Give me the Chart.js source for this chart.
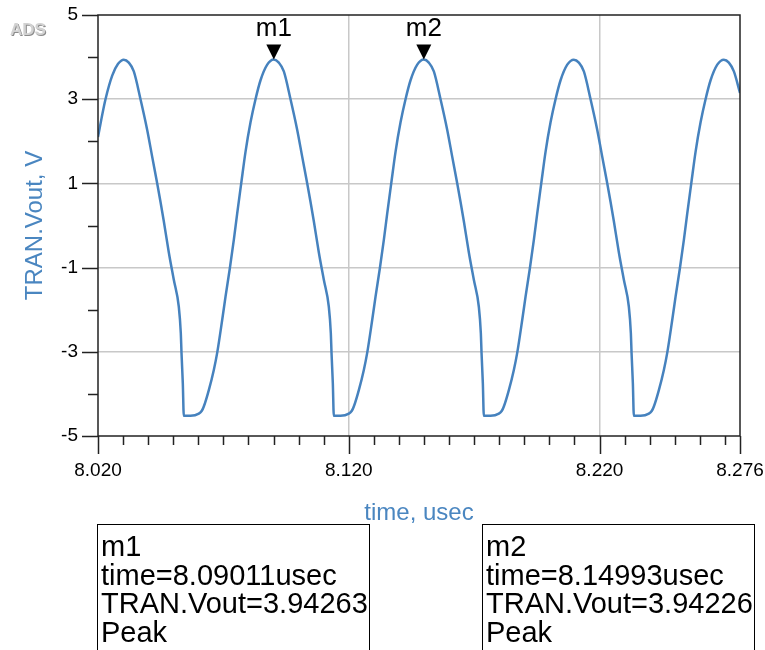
<!DOCTYPE html>
<html>
<head>
<meta charset="utf-8">
<title>TRAN.Vout</title>
<script src="https://cdn.jsdelivr.net/npm/chart.js@4.4.1/dist/chart.umd.min.js"></script>
<style>
  body { margin: 0; background: #fff; }
  canvas { display: block; }
</style>
</head>
<body>
<canvas id="tranChart" width="765" height="650"></canvas>
<script>
// time in usec, one row per period (peak to peak)
const timeUs = [
  8.02000, 8.02152, 8.02299, 8.02566, 8.02800,
  8.03029, 8.03228, 8.03428, 8.03695, 8.03962, 8.04162, 8.04361, 8.04493, 8.04624, 8.04824, 8.05023, 8.05222, 8.05302, 8.05330, 8.05382, 8.05422, 8.05689, 8.06020, 8.06140, 8.06219, 8.06419, 8.06618, 8.06754, 8.06953, 8.07085, 8.07256, 8.07416, 8.07551, 8.07711, 8.07882, 8.08082, 8.08281, 8.08481, 8.08748,
  8.09011, 8.09210, 8.09410, 8.09677, 8.09944, 8.10144, 8.10343, 8.10475, 8.10606, 8.10806, 8.11005, 8.11204, 8.11284, 8.11312, 8.11364, 8.11404, 8.11671, 8.12002, 8.12122, 8.12201, 8.12401, 8.12600, 8.12736, 8.12935, 8.13067, 8.13238, 8.13398, 8.13533, 8.13693, 8.13864, 8.14064, 8.14263, 8.14463, 8.14730,
  8.14993, 8.15192, 8.15392, 8.15659, 8.15926, 8.16126, 8.16325, 8.16457, 8.16588, 8.16788, 8.16987, 8.17186, 8.17266, 8.17294, 8.17346, 8.17386, 8.17653, 8.17984, 8.18104, 8.18183, 8.18383, 8.18582, 8.18718, 8.18917, 8.19049, 8.19220, 8.19380, 8.19515, 8.19675, 8.19846, 8.20046, 8.20245, 8.20445, 8.20712,
  8.20975, 8.21174, 8.21374, 8.21641, 8.21908, 8.22108, 8.22307, 8.22439, 8.22570, 8.22770, 8.22969, 8.23168, 8.23248, 8.23276, 8.23328, 8.23368, 8.23635, 8.23966, 8.24086, 8.24165, 8.24365, 8.24564, 8.24700, 8.24899, 8.25031, 8.25202, 8.25362, 8.25497, 8.25657, 8.25828, 8.26028, 8.26227, 8.26427, 8.26694,
  8.26957, 8.27156, 8.27356, 8.27600
];

// TRAN.Vout in V
const voutV = [
  2.10, 2.58, 3.00, 3.56, 3.84,
  3.94, 3.87, 3.66, 3.00, 2.27, 1.63, 1.00, 0.56, 0.10, -0.64, -1.29, -1.93, -2.56, -3.03, -3.75, -4.52, -4.52, -4.47, -4.40, -4.30, -3.91, -3.43, -3.02, -2.24, -1.69, -1.02, -0.34, 0.29, 1.00, 1.75, 2.45, 3.00, 3.45, 3.82,
  3.94263, 3.87, 3.66, 3.00, 2.27, 1.63, 1.00, 0.56, 0.10, -0.64, -1.29, -1.93, -2.56, -3.03, -3.75, -4.52, -4.52, -4.47, -4.40, -4.30, -3.91, -3.43, -3.02, -2.24, -1.69, -1.02, -0.34, 0.29, 1.00, 1.75, 2.45, 3.00, 3.45, 3.82,
  3.94226, 3.87, 3.66, 3.00, 2.27, 1.63, 1.00, 0.56, 0.10, -0.64, -1.29, -1.93, -2.56, -3.03, -3.75, -4.52, -4.52, -4.47, -4.40, -4.30, -3.91, -3.43, -3.02, -2.24, -1.69, -1.02, -0.34, 0.29, 1.00, 1.75, 2.45, 3.00, 3.45, 3.82,
  3.94, 3.87, 3.66, 3.00, 2.27, 1.63, 1.00, 0.56, 0.10, -0.64, -1.29, -1.93, -2.56, -3.03, -3.75, -4.52, -4.52, -4.47, -4.40, -4.30, -3.91, -3.43, -3.02, -2.24, -1.69, -1.02, -0.34, 0.29, 1.00, 1.75, 2.45, 3.00, 3.45, 3.82,
  3.94, 3.87, 3.66, 3.15
];

const xTickValues = [8.020, 8.120, 8.220, 8.276];
const xGridValues = [8.120, 8.220];
const xMinorStep = 0.01;
const yTickValues = [-5, -3, -1, 1, 3, 5];
const yGridValues = [-3, -1, 1, 3];
const yMinorStep = 1;

const markerNames = ["m1", "m2"];
const markerTimes = [8.09011, 8.14993];
const markerValues = [3.94263, 3.94226];
const markerNotes = ["Peak", "Peak"];

const FONT = '"Liberation Sans", Arial, sans-serif';
const LINE_BLUE = "#4682be";
const TITLE_BLUE = "#4a86c0";

const near = (a, list) => list.some(v => Math.abs(a - v) < 1e-6);

// drop the label overhang paddings so layout.padding alone places the plot box
const noLabelPadding = s => {
  s.paddingTop = 0;
  s.paddingBottom = 0;
  s.paddingLeft = 0;
  s.paddingRight = 0;
};

const adsDecor = {
  id: "adsDecor",
  afterDatasetsDraw(chart) {
    const { ctx, chartArea: a, scales } = chart;
    const xs = scales.x, ys = scales.y;
    ctx.save();
    ctx.strokeStyle = "#222";
    ctx.lineWidth = 1.5;
    ctx.strokeRect(a.left, a.top, a.right - a.left, a.bottom - a.top);

    // x tick marks
    ctx.beginPath();
    for (let v = xs.min; v <= xs.max + 1e-9; v += xMinorStep) {
      const px = Math.round(xs.getPixelForValue(v)) + 0.5;
      ctx.moveTo(px, a.bottom);
      ctx.lineTo(px, a.bottom + 9);
    }
    xTickValues.forEach(v => {
      const px = Math.round(xs.getPixelForValue(v)) + 0.5;
      ctx.moveTo(px, a.bottom);
      ctx.lineTo(px, a.bottom + 18);
    });
    // y tick marks
    for (let v = ys.min; v <= ys.max + 1e-9; v += yMinorStep) {
      const py = Math.round(ys.getPixelForValue(v)) + 0.5;
      ctx.moveTo(a.left, py);
      ctx.lineTo(a.left - 10, py);
    }
    yTickValues.forEach(v => {
      const py = Math.round(ys.getPixelForValue(v)) + 0.5;
      ctx.moveTo(a.left, py);
      ctx.lineTo(a.left - 16, py);
    });
    ctx.stroke();

    // markers
    ctx.fillStyle = "#000";
    markerNames.forEach((name, i) => {
      const px = xs.getPixelForValue(markerTimes[i]);
      const py = ys.getPixelForValue(markerValues[i]);
      ctx.beginPath();
      ctx.moveTo(px, py);
      ctx.lineTo(px - 7.5, py - 15);
      ctx.lineTo(px + 7.5, py - 15);
      ctx.closePath();
      ctx.fill();
      ctx.font = "26px " + FONT;
      ctx.textAlign = "center";
      ctx.textBaseline = "middle";
      ctx.fillText(name, px, py - 31);
    });
    ctx.restore();
  },
  afterDraw(chart) {
    const { ctx } = chart;
    ctx.save();
    // marker readouts
    const boxes = [{ x: 97, w: 272 }, { x: 482, w: 272 }];
    ctx.strokeStyle = "#000";
    ctx.lineWidth = 1;
    ctx.fillStyle = "#000";
    ctx.font = "29px " + FONT;
    ctx.textAlign = "left";
    ctx.textBaseline = "middle";
    markerNames.forEach((name, i) => {
      const b = boxes[i];
      ctx.strokeRect(b.x + 0.5, 524.5, b.w, 200);
      const lines = [
        name,
        "time=" + markerTimes[i].toFixed(5) + "usec",
        "TRAN.Vout=" + markerValues[i].toFixed(5),
        markerNotes[i]
      ];
      lines.forEach((t, k) => ctx.fillText(t, b.x + 4, 548 + k * 28.5));
    });
    // ADS logo
    ctx.font = "bold 17px " + FONT;
    ctx.textBaseline = "alphabetic";
    ctx.fillStyle = "#8c8c8c";
    ctx.fillText("ADS", 11, 36);
    ctx.fillStyle = "#d2d2d2";
    ctx.fillText("ADS", 10, 35);
    ctx.restore();
  }
};

const points = timeUs.map((t, i) => ({ x: t, y: voutV[i] }));

new Chart(document.getElementById("tranChart"), {
  type: "line",
  data: {
    datasets: [{
      label: "TRAN.Vout",
      data: points,
      borderColor: LINE_BLUE,
      borderWidth: 2.5,
      pointRadius: 0,
      cubicInterpolationMode: "monotone",
      fill: false
    }]
  },
  options: {
    responsive: false,
    animation: false,
    devicePixelRatio: 1,
    layout: { padding: { left: 0, right: 25, top: 15, bottom: 114 } },
    plugins: { legend: { display: false }, tooltip: { enabled: false } },
    scales: {
      x: {
        type: "linear",
        min: 8.020,
        max: 8.276,
        afterBuildTicks: s => { s.ticks = xTickValues.map(v => ({ value: v })); },
        afterFit: s => { s.height = 100; noLabelPadding(s); },
        ticks: {
          autoSkip: false,
          maxRotation: 0,
          padding: 23,
          color: "#000",
          font: { family: FONT, size: 19 },
          callback: v => Number(v).toFixed(3)
        },
        grid: {
          drawTicks: false,
          lineWidth: 1.5,
          color: c => near(c.tick.value, xGridValues) ? "#c8c8c8" : "rgba(0,0,0,0)"
        },
        border: { display: false },
        title: {
          display: true,
          text: "time, usec",
          color: TITLE_BLUE,
          font: { family: FONT, size: 24 },
          padding: { top: 8, bottom: 8 }
        }
      },
      y: {
        min: -5,
        max: 5,
        afterBuildTicks: s => { s.ticks = yTickValues.map(v => ({ value: v })); },
        afterFit: s => { s.width = 98; noLabelPadding(s); },
        ticks: {
          padding: 20,
          color: "#000",
          font: { family: FONT, size: 19 },
          callback: v => String(v)
        },
        grid: {
          drawTicks: false,
          lineWidth: 1.5,
          color: c => near(c.tick.value, yGridValues) ? "#c8c8c8" : "rgba(0,0,0,0)"
        },
        border: { display: false },
        title: {
          display: true,
          text: "TRAN.Vout, V",
          color: TITLE_BLUE,
          font: { family: FONT, size: 24 },
          padding: { top: 21, bottom: 21 }
        }
      }
    }
  },
  plugins: [adsDecor]
});
</script>
</body>
</html>
